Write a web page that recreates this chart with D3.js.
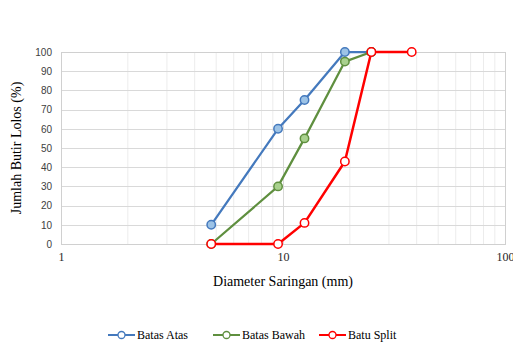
<!DOCTYPE html>
<html>
<head>
<meta charset="utf-8">
<script src="https://cdn.jsdelivr.net/npm/d3@7"></script>
<style>
  body { margin: 0; background: #fff; }
</style>
</head>
<body>
<div id="chart"></div>
<script>
// sieve sizes (mm) and percent passing
var sieves = [4.75, 9.5, 12.5, 19, 25, 38];
var batasAtas = [10, 60, 75, 100, 100];
var batasBawah = [0, 30, 55, 95, 100];
var batuSplit = [0, 0, 11, 43, 100, 100];
var yTicks = [0, 10, 20, 30, 40, 50, 60, 70, 80, 90, 100];
var xTicks = [1, 10, 100];

var series = [
  {name: "Batas Atas", values: batasAtas, line: "#4479bd", fill: "#9dc3e6", w: 2.25},
  {name: "Batas Bawah", values: batasBawah, line: "#5f8f3f", fill: "#a9d18e", w: 2.25},
  {name: "Batu Split", values: batuSplit, line: "#ff0000", fill: "#ffffff", w: 2.5}
];

var W = 513, H = 345;
var margin = {top: 52, right: 8, bottom: 101, left: 61},
    width = W - margin.left - margin.right,
    height = H - margin.top - margin.bottom;

var serif = "'Liberation Serif', 'Times New Roman', serif";

var svg = d3.select("#chart").append("svg")
    .attr("width", W).attr("height", H);

var g = svg.append("g")
    .attr("transform", "translate(" + margin.left + "," + margin.top + ")");

var x = d3.scaleLog().domain([1, 100]).range([0, width]);
var y = d3.scaleLinear().domain([0, 100]).range([height, 0]);

// minor vertical grid
var minor = [];
[1, 10].forEach(function(d) { for (var i = 2; i < 10; i++) minor.push(d * i); });
g.selectAll(".minor").data(minor).enter().append("line")
    .attr("x1", function(d) { return x(d); }).attr("x2", function(d) { return x(d); })
    .attr("y1", 0).attr("y2", height)
    .style("stroke", "#ececec").style("stroke-width", 1);

// major vertical grid
g.selectAll(".vmajor").data(xTicks).enter().append("line")
    .attr("x1", function(d) { return Math.round(x(d)) + 0.5; })
    .attr("x2", function(d) { return Math.round(x(d)) + 0.5; })
    .attr("y1", 0).attr("y2", height)
    .style("stroke", "#d9d9d9");

// horizontal grid
g.selectAll(".hgrid").data(yTicks).enter().append("line")
    .attr("x1", 0).attr("x2", width)
    .attr("y1", function(d) { return Math.round(y(d)) + 0.5; })
    .attr("y2", function(d) { return Math.round(y(d)) + 0.5; })
    .style("stroke", "#d9d9d9");

// plot border
g.append("rect").attr("x", 0.5).attr("y", 0.5)
    .attr("width", width).attr("height", height)
    .style("fill", "none").style("stroke", "#d0d0d0");

// y axis labels
var yAxis = g.append("g")
    .call(d3.axisLeft(y).tickValues(yTicks).tickSize(0).tickPadding(9));
yAxis.select(".domain").remove();
yAxis.selectAll("text")
    .style("font-family", "'Liberation Sans', Arial, sans-serif")
    .style("font-size", "10px").style("fill", "#404040");

// x axis labels
var xAxis = g.append("g")
    .attr("transform", "translate(0," + height + ")")
    .call(d3.axisBottom(x).tickValues(xTicks).tickFormat(d3.format("d")).tickSize(0).tickPadding(8));
xAxis.select(".domain").remove();
xAxis.selectAll("text")
    .style("font-family", serif)
    .style("font-size", "12px").style("fill", "#262626");

// axis titles
svg.append("text")
    .attr("transform", "translate(21," + (margin.top + height / 2) + ") rotate(-90)")
    .attr("text-anchor", "middle")
    .style("font-family", serif)
    .style("font-size", "14px").style("fill", "#000")
    .text("Jumlah Butir Lolos (%)");

svg.append("text")
    .attr("x", margin.left + width / 2)
    .attr("y", 286)
    .attr("text-anchor", "middle")
    .style("font-family", serif)
    .style("font-size", "14px").style("fill", "#000")
    .text("Diameter Saringan (mm)");

// lines
var line = d3.line()
    .x(function(d) { return x(d.x); })
    .y(function(d) { return y(d.y); });

series.forEach(function(s) {
  var pts = s.values.map(function(v, i) { return {x: sieves[i], y: v}; });
  g.append("path")
      .datum(pts)
      .attr("d", line)
      .style("fill", "none")
      .style("stroke", s.line)
      .style("stroke-width", s.w)
      .style("stroke-linejoin", "round");
  g.selectAll(null).data(pts).enter().append("circle")
      .attr("cx", function(d) { return x(d.x); })
      .attr("cy", function(d) { return y(d.y); })
      .attr("r", 4.2)
      .style("fill", s.fill)
      .style("stroke", s.line)
      .style("stroke-width", 1.5);
});

// legend
var legendX = [108, 213, 319];
var legend = svg.selectAll(".legend").data(series).enter().append("g")
    .attr("transform", function(d, i) { return "translate(" + legendX[i] + ",335)"; });
legend.append("line")
    .attr("x1", 0).attr("x2", 27).attr("y1", 0).attr("y2", 0)
    .style("stroke", function(d) { return d.line; })
    .style("stroke-width", 2);
legend.append("circle")
    .attr("cx", 13.5).attr("cy", 0).attr("r", 3.5)
    .style("fill", "#fff")
    .style("stroke", function(d) { return d.line; })
    .style("stroke-width", 1.3);
legend.append("text")
    .attr("x", 29).attr("y", 4)
    .style("font-family", serif)
    .style("font-size", "12px").style("fill", "#000")
    .text(function(d) { return d.name; });
</script>
</body>
</html>
